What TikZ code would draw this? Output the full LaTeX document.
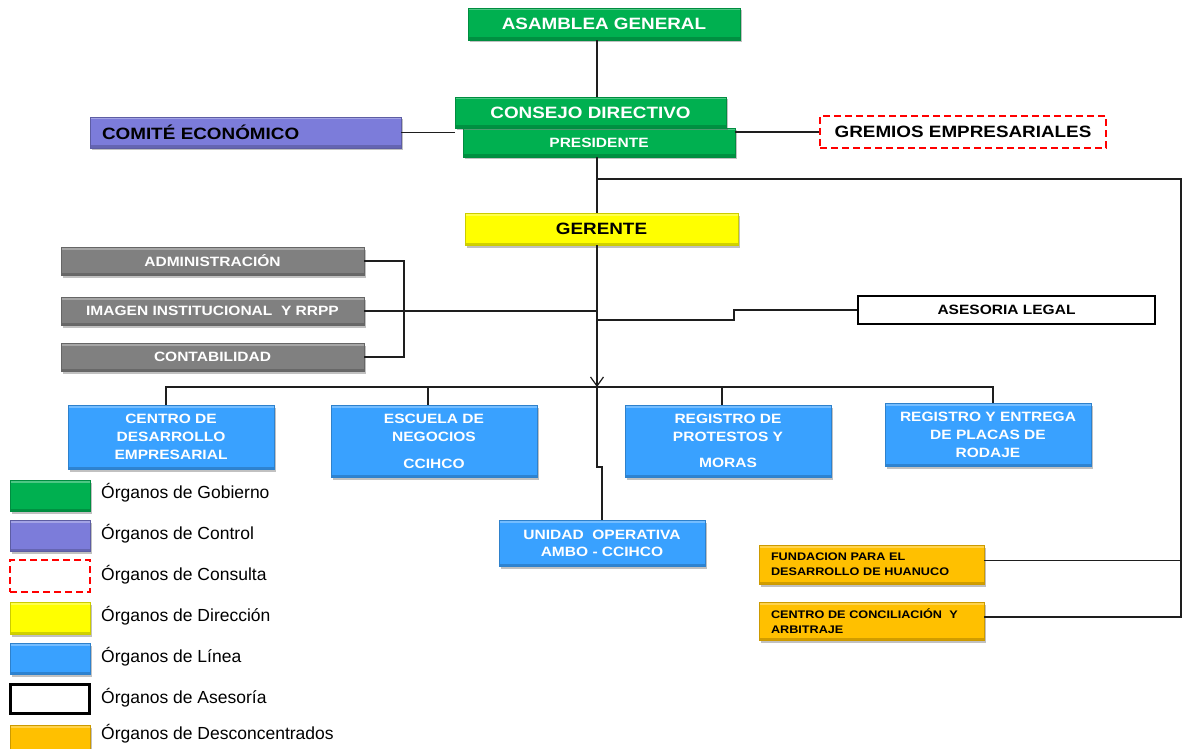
\documentclass[tikz,border=0pt]{standalone}
\usepackage{fontspec}
\setmainfont{Liberation Sans}
\newfontfamily\boxfont[FakeStretch=1.15]{Liberation Sans}
\usetikzlibrary{shadows,arrows.meta}

\definecolor{gob}{RGB}{0,176,80}
\definecolor{ctrl}{RGB}{124,124,218}
\definecolor{dir}{RGB}{255,255,0}
\definecolor{lin}{RGB}{57,161,255}
\definecolor{apoyo}{RGB}{128,128,128}
\definecolor{desc}{RGB}{255,192,0}
\definecolor{wirecol}{RGB}{30,30,30}

\newcommand\bigtxt{\boxfont\bfseries\fontsize{16.4}{19}\selectfont}
\newcommand\midtxt{\boxfont\bfseries\fontsize{13.5}{18}\selectfont}
\newcommand\smalltxt{\boxfont\bfseries\fontsize{11}{15}\selectfont}

\begin{document}
\begin{tikzpicture}[x=1pt,y=-1pt,
  org/.style={rectangle, inner sep=0pt, align=center,
    drop shadow={shadow xshift=2pt,shadow yshift=-2.5pt,opacity=0.35,fill=black!70},
    path picture={
      \fill[white,opacity=.3] (path picture bounding box.north west) rectangle ([yshift=-2.5pt]path picture bounding box.north east);
      \fill[black,opacity=.18] (path picture bounding box.south west) rectangle ([yshift=2.5pt]path picture bounding box.south east);}},
  sz/.style 2 args={minimum width=#1, minimum height=#2},
  gobbox/.style={org, fill=gob, draw=gob!80!black, text=white},
  ctrlbox/.style={org, fill=ctrl, draw=ctrl!75!black, text=black},
  dirbox/.style={org, fill=dir, draw=dir!80!black, text=black},
  linbox/.style={org, fill=lin, draw=lin!80!black, text=white},
  apoyobox/.style={org, fill=apoyo, draw=apoyo!80!black, text=white},
  descbox/.style={org, fill=desc, draw=desc!80!black, text=black},
  consulta/.style={rectangle, draw=red, line width=2.6pt, dash pattern=on 7pt off 4pt, fill=white, inner sep=0pt},
  asesbox/.style={rectangle, draw=black, line width=2.6pt, fill=white, inner sep=0pt},
  wire/.style={draw=wirecol, line width=1.3pt},
  legtext/.style={anchor=west, inner sep=0pt, font=\fontsize{17.5}{20}\selectfont}
]
\useasboundingbox (0,0) rectangle (1184,749);

% main spine and junction points
\coordinate (sx) at (597,0);
\coordinate (tap) at (597,179);
\coordinate (rail) at (1181,179);
\coordinate (brk) at (404,0);
\coordinate (jog) at (734,320);
\coordinate (bar) at (597,387);
\coordinate (d1) at (166,387);
\coordinate (d2) at (428,387);
\coordinate (d3) at (722,387);
\coordinate (d4) at (993,387);

% governing bodies
\node[gobbox, sz={272pt}{32pt}, font=\bigtxt] (asamblea) at (604,24) {ASAMBLEA GENERAL};
\node[gobbox, sz={272pt}{29pt}, font=\boxfont\bfseries\fontsize{13.5}{16}\selectfont] (pres) at (599,142.5) {PRESIDENTE};
\node[gobbox, sz={271pt}{31pt}, font=\bigtxt] (consejo) at (590.5,112.5) {CONSEJO DIRECTIVO};

% control and consultation
\node[ctrlbox, minimum height=31pt, text width=287pt, inner xsep=12pt, align=left, font=\bigtxt] (comite) at (245.5,132.5) {COMITÉ ECONÓMICO};
\node[consulta, sz={286pt}{32pt}, font=\bigtxt] (gremios) at (963,132) {GREMIOS EMPRESARIALES};

% management
\node[dirbox, sz={273pt}{32pt}, font=\bigtxt] (gerente) at (601.5,229) {GERENTE};

% support units
\node[apoyobox, sz={303pt}{28pt}, font=\midtxt] (admin) at (212.5,261) {ADMINISTRACIÓN};
\node[apoyobox, sz={303pt}{28pt}, font=\midtxt] (imagen) at (212.5,311) {IMAGEN INSTITUCIONAL\ \ Y RRPP};
\node[apoyobox, sz={303pt}{28pt}, font=\midtxt] (contab) at (212.5,357) {CONTABILIDAD};

% advisory
\node[asesbox, sz={297pt}{28pt}, font=\midtxt] (ases) at (1006.5,310) {ASESORIA LEGAL};

% line bodies
\node[linbox, sz={206pt}{64pt}, font=\midtxt] (cde) at (171,437) {CENTRO DE\\DESARROLLO\\EMPRESARIAL};
\node[linbox, sz={206pt}{72pt}, font=\midtxt] (escuela) at (434,441) {ESCUELA DE\\NEGOCIOS\\[9pt]CCIHCO};
\node[linbox, sz={206pt}{72pt}, font=\midtxt] (protestos) at (728,441) {REGISTRO DE\\PROTESTOS Y\\[8pt]MORAS};
\node[linbox, sz={206pt}{63pt}, font=\midtxt] (placas) at (988,434.5) {REGISTRO Y ENTREGA\\DE PLACAS DE\\RODAJE};
\node[linbox, sz={206pt}{46pt}, font=\boxfont\bfseries\fontsize{13.5}{17}\selectfont] (unidad) at (602,543) {UNIDAD\ \ OPERATIVA\\AMBO - CCIHCO};

% decentralised bodies
\node[descbox, minimum height=39pt, text width=201pt, inner xsep=12pt, align=left, font=\smalltxt] (fund) at (871.5,564.5) {FUNDACION PARA EL\\DESARROLLO DE HUANUCO};
\node[descbox, minimum height=38pt, text width=201pt, inner xsep=12pt, align=left, font=\smalltxt] (concil) at (871.5,621) {CENTRO DE CONCILIACIÓN\ \ Y\\ARBITRAJE};

% connectors
\draw[wire] (sx |- asamblea.south) -- (sx |- consejo.north);
\draw[wire] (comite.east) -- (comite.east -| consejo.west);
\draw[wire] (pres.east |- gremios.west) -- (gremios.west);
\draw[wire] (sx |- pres.south) -- (sx |- gerente.north);
\draw[wire] (tap) -- (rail) |- ([yshift=4pt]concil.east);
\draw[wire] ([yshift=4pt]fund.east) -- ([yshift=4pt]fund.east -| rail);
\draw[wire, -{Straight Barb[length=9pt,width=13pt,line width=1.2pt]}] (sx |- gerente.south) -- (bar);
\draw[wire] (admin.east) -- (admin.east -| brk) -- (brk |- contab.east) -- (contab.east);
\draw[wire] (imagen.east) -- ([xshift=-1.5pt]imagen.east -| sx);
\draw[wire] (sx |- jog) -- (jog) -- (jog |- ases.west) -- (ases.west);
\draw[wire] (d1 |- cde.north) -- (d1) -- (d4) -- (d4 |- placas.north);
\draw[wire] (d2) -- (d2 |- escuela.north);
\draw[wire] (d3) -- (d3 |- protestos.north);
\draw[wire] (bar) -- ++(0,80) -| (unidad.north);

% legend
\node[gobbox, sz={80pt}{31pt}] (lg1) at (50,495.5) {};
\node[ctrlbox, sz={80pt}{31pt}] (lg2) at (50,535.5) {};
\node[consulta, sz={80pt}{32pt}] (lg3) at (50,576) {};
\node[dirbox, sz={80pt}{32pt}] (lg4) at (50,618) {};
\node[linbox, sz={80pt}{31pt}] (lg5) at (50,658.5) {};
\node[asesbox, sz={79pt}{29pt}] (lg6) at (50,699) {};
\node[descbox, sz={80pt}{30pt}] (lg7) at (50,740) {};
\node[legtext] (lt1) at (101,493) {Órganos de Gobierno};
\node[legtext] (lt2) at (101,534) {Órganos de Control};
\node[legtext] (lt3) at (101,575) {Órganos de Consulta};
\node[legtext] (lt4) at (101,616) {Órganos de Dirección};
\node[legtext] (lt5) at (101,657) {Órganos de Línea};
\node[legtext] (lt6) at (101,698) {Órganos de Asesoría};
\node[legtext] (lt7) at (101,734) {Órganos de Desconcentrados};
\end{tikzpicture}
\end{document}
